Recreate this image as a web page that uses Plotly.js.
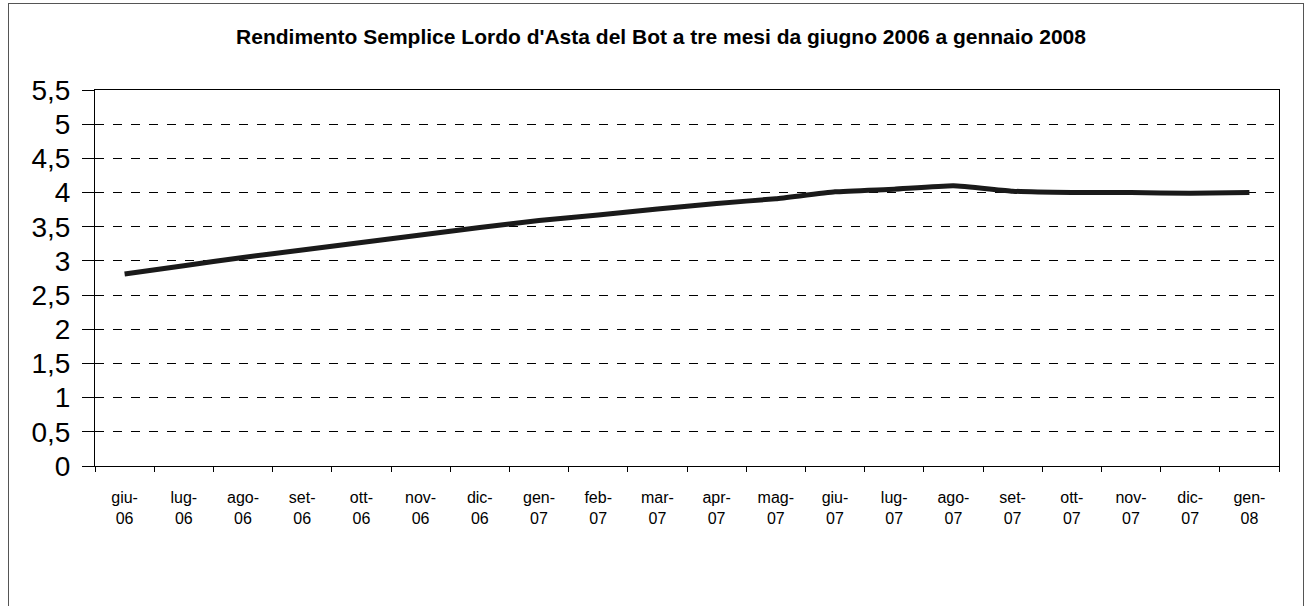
<!DOCTYPE html>
<html>
<head>
<meta charset="utf-8">
<script src="https://cdn.plot.ly/plotly-3.0.1.min.js"></script>
<style>
  html, body { margin: 0; padding: 0; background: #fff; }
  #chart { width: 1309px; height: 606px; }
  #frame { position: absolute; left: 8px; top: 3px; width: 1294px; height: 700px;
           border: 1px solid #555; pointer-events: none; }
</style>
</head>
<body>
<div id="chart"></div>
<div id="frame"></div>
<script>
const months = ["giu-<br>06","lug-<br>06","ago-<br>06","set-<br>06","ott-<br>06","nov-<br>06","dic-<br>06","gen-<br>07","feb-<br>07","mar-<br>07","apr-<br>07","mag-<br>07","giu-<br>07","lug-<br>07","ago-<br>07","set-<br>07","ott-<br>07","nov-<br>07","dic-<br>07","gen-<br>08"];
const rendimento = [2.81, 2.93, 3.05, 3.16, 3.27, 3.38, 3.49, 3.59, 3.67, 3.76, 3.84, 3.91, 4.01, 4.05, 4.10, 4.02, 4.00, 4.00, 3.99, 4.00];
const titleText = "Rendimento Semplice Lordo d'Asta del Bot a tre mesi da giugno 2006 a gennaio 2008";

const trace = {
  x: months,
  y: rendimento,
  type: 'scatter',
  mode: 'lines',
  line: { color: '#1a1a1a', width: 5, shape: 'spline', smoothing: 0.4 },
  hoverinfo: 'none'
};

const layout = {
  width: 1309, height: 606,
  paper_bgcolor: '#fff', plot_bgcolor: '#fff',
  separators: ',.',
  margin: { l: 95, r: 30, t: 90, b: 140 },
  showlegend: false,
  title: {
    text: '<b>' + titleText + '</b>',
    font: { family: 'Liberation Sans, Arial, sans-serif', size: 21, color: '#000' },
    x: 0.505, xanchor: 'center', y: 0.94, yanchor: 'middle'
  },
  xaxis: {
    type: 'category',
    range: [-0.5, months.length - 0.5],
    tickson: 'boundaries',
    ticks: 'outside', ticklen: 5, tickcolor: '#000', tickwidth: 1,
    ticklabelstandoff: 17,
    showgrid: false,
    showline: true, linecolor: '#000', linewidth: 1, mirror: true,
    tickfont: { family: 'Liberation Sans, Arial, sans-serif', size: 16, color: '#000' },
    tickangle: 0,
    fixedrange: true
  },
  yaxis: {
    range: [0, 5.5],
    dtick: 0.5, tick0: 0,
    ticks: 'outside', ticklen: 12, tickcolor: '#000', tickwidth: 1,
    ticklabelstandoff: 6,
    showgrid: true, gridcolor: '#000', gridwidth: 1, griddash: 'dash',
    showline: true, linecolor: '#000', linewidth: 1, mirror: true,
    zeroline: false,
    tickfont: { family: 'Liberation Sans, Arial, sans-serif', size: 28, color: '#000' },
    fixedrange: true
  }
};

Plotly.newPlot('chart', [trace], layout, { staticPlot: true, displayModeBar: false });
</script>
</body>
</html>
